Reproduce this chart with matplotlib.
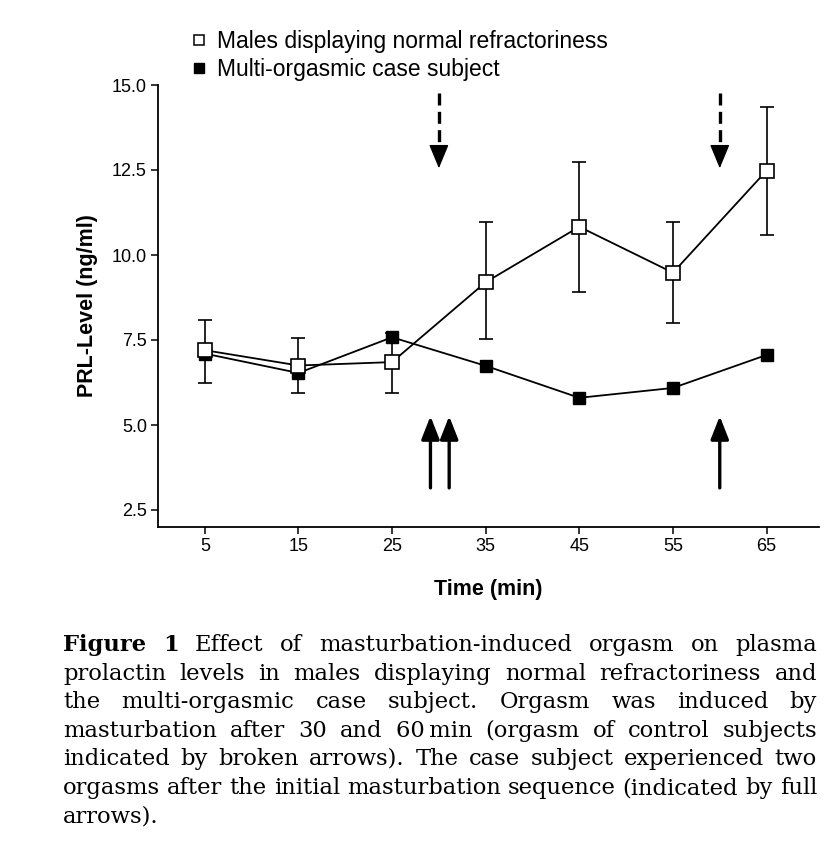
import matplotlib
matplotlib.use("Agg")
import matplotlib.pyplot as plt
from matplotlib.lines import Line2D
import numpy as np

# ---------------- data ----------------
times = [5, 15, 25, 35, 45, 55, 65]
normal_mean = [7.2, 6.75, 6.85, 9.2, 10.83, 9.48, 12.48]
normal_hi = [8.1, 7.55, 7.7, 10.96, 12.74, 10.97, 14.36]
normal_lo = [6.25, 5.95, 5.95, 7.52, 8.92, 8.01, 10.59]
case_mean = [7.1, 6.53, 7.58, 6.74, 5.8, 6.09, 7.06]

control_orgasm_times = [30, 60]
case_orgasm_times = [29.1, 31.1, 60]

legend_labels = ["Males displaying normal refractoriness", "Multi-orgasmic case subject"]
y_ticks = [2.5, 5.0, 7.5, 10.0, 12.5, 15.0]
x_ticks = [5, 15, 25, 35, 45, 55, 65]

caption_lines = [
    [("Figure", "bold"), ("1", "bold"), ("Effect", "normal"), ("of", "normal"),
     ("masturbation-induced", "normal"), ("orgasm", "normal"), ("on", "normal"), ("plasma", "normal")],
    "prolactin levels in males displaying normal refractoriness and",
    "the multi-orgasmic case subject. Orgasm was induced by",
    "masturbation after 30 and 60\u2009min (orgasm of control subjects",
    "indicated by broken arrows). The case subject experienced two",
    "orgasms after the initial masturbation sequence (indicated by full",
    "arrows).",
]

# ---------------- figure ----------------
W, H = 836, 848
fig = plt.figure(figsize=(W / 100, H / 100), dpi=100)
sans = ["Liberation Sans", "DejaVu Sans"]
serif = ["DejaVu Serif", "Liberation Serif"]
plt.rcParams["font.family"] = sans

left, right, top, bottom = 158, 819, 85, 527
ax = fig.add_axes([left / W, 1 - bottom / H, (right - left) / W, (bottom - top) / H])
ax.set_xlim(0, 70.6)
ax.set_ylim(2.0, 15.0)

for s in ["top", "right"]:
    ax.spines[s].set_visible(False)
ax.spines["left"].set_bounds(2.0, 15.0)
for s in ["left", "bottom"]:
    ax.spines[s].set_linewidth(1.3)

ax.set_xticks(x_ticks)
ax.set_xticklabels([str(t) for t in x_ticks], fontsize=13)
ax.set_yticks(y_ticks)
ax.set_yticklabels([f"{v:.1f}" for v in y_ticks], fontsize=13)
ax.tick_params(axis="both", direction="out", length=5, width=1.1, pad=3)

ax.set_xlabel("Time (min)", fontsize=15.5, fontweight="bold", labelpad=17)
ax.set_ylabel("PRL-Level (ng/ml)", fontsize=15.5, fontweight="bold", labelpad=10)

nm = np.array(normal_mean)
yerr = [nm - np.array(normal_lo), np.array(normal_hi) - nm]
ax.errorbar(times, normal_mean, yerr=yerr, fmt="none", ecolor="black",
            elinewidth=1.2, capsize=5, capthick=1.2, zorder=2)
ax.plot(times, case_mean, color="black", lw=1.3, marker="s", ms=8.5,
        mfc="black", mec="black", zorder=3)
ax.plot(times, normal_mean, color="black", lw=1.3, marker="s", ms=10,
        mfc="white", mec="black", mew=1.2, zorder=4)

# broken arrows (control orgasm)
for t in control_orgasm_times:
    ax.plot([t, t], [14.76, 13.3], color="black", lw=2.4, dashes=(3.6, 1.9),
            solid_capstyle="butt", dash_capstyle="butt", zorder=5)
    ax.annotate("", xy=(t, 12.55), xytext=(t, 13.2),
                arrowprops=dict(arrowstyle="-|>,head_length=15,head_width=6.2",
                                mutation_scale=1, color="black", lw=1,
                                shrinkA=0, shrinkB=0), zorder=5)
# full arrows (case subject)
for t in case_orgasm_times:
    ax.annotate("", xy=(t, 5.26), xytext=(t, 3.15),
                arrowprops=dict(arrowstyle="-|>,head_length=14,head_width=5.5",
                                mutation_scale=1, color="black", lw=2.4,
                                shrinkA=0, shrinkB=0), zorder=5)

handles = [
    Line2D([], [], marker="s", ls="none", ms=7.5, mfc="white", mec="black", mew=1.1),
    Line2D([], [], marker="s", ls="none", ms=7.5, mfc="black", mec="black"),
]
fig.legend(handles, legend_labels, loc="upper left",
           bbox_to_anchor=(192 / W, 1 - 30 / H), bbox_transform=fig.transFigure,
           frameon=False, handlelength=0.6, handletextpad=0.5,
           borderpad=0, borderaxespad=0, labelspacing=0.22,
           prop={"family": ["Liberation Sans", "DejaVu Sans"], "size": 16.5})

# ---------------- justified caption ----------------
renderer = fig.canvas.get_renderer()
x0, x1 = 63, 817
baselines = [651, 680, 708, 737, 765, 794, 822]


def tokens(line):
    if isinstance(line, list):
        return line
    return [(w, "normal") for w in line.split(" ")]


def measure(text, weight, fs):
    t = fig.text(0, 0, text, fontsize=fs, family=serif, fontweight=weight)
    w = t.get_window_extent(renderer).width
    t.remove()
    return w


fs0 = 16.0
tight = tokens(caption_lines[5])
wsum = sum(measure(w, wt, fs0) for w, wt in tight)
space0 = measure("a a", "normal", fs0) - measure("aa", "normal", fs0)
nat = wsum + space0 * (len(tight) - 1)
fs = min(fs0 * (x1 - x0) / nat, 17.0)

space = measure("a a", "normal", fs) - measure("aa", "normal", fs)
for i, line in enumerate(caption_lines):
    toks = tokens(line)
    arts = [fig.text(0, 0, w, fontsize=fs, family=serif, fontweight=wt,
                     va="baseline", ha="left") for w, wt in toks]
    widths = [a.get_window_extent(renderer).width for a in arts]
    last = i == len(caption_lines) - 1
    gap = space if (last or len(toks) == 1) else (x1 - x0 - sum(widths)) / (len(toks) - 1)
    x = x0
    for a, w in zip(arts, widths):
        a.set_position((x / W, 1 - baselines[i] / H))
        x += w + gap

fig.savefig("out.png", dpi=100)
